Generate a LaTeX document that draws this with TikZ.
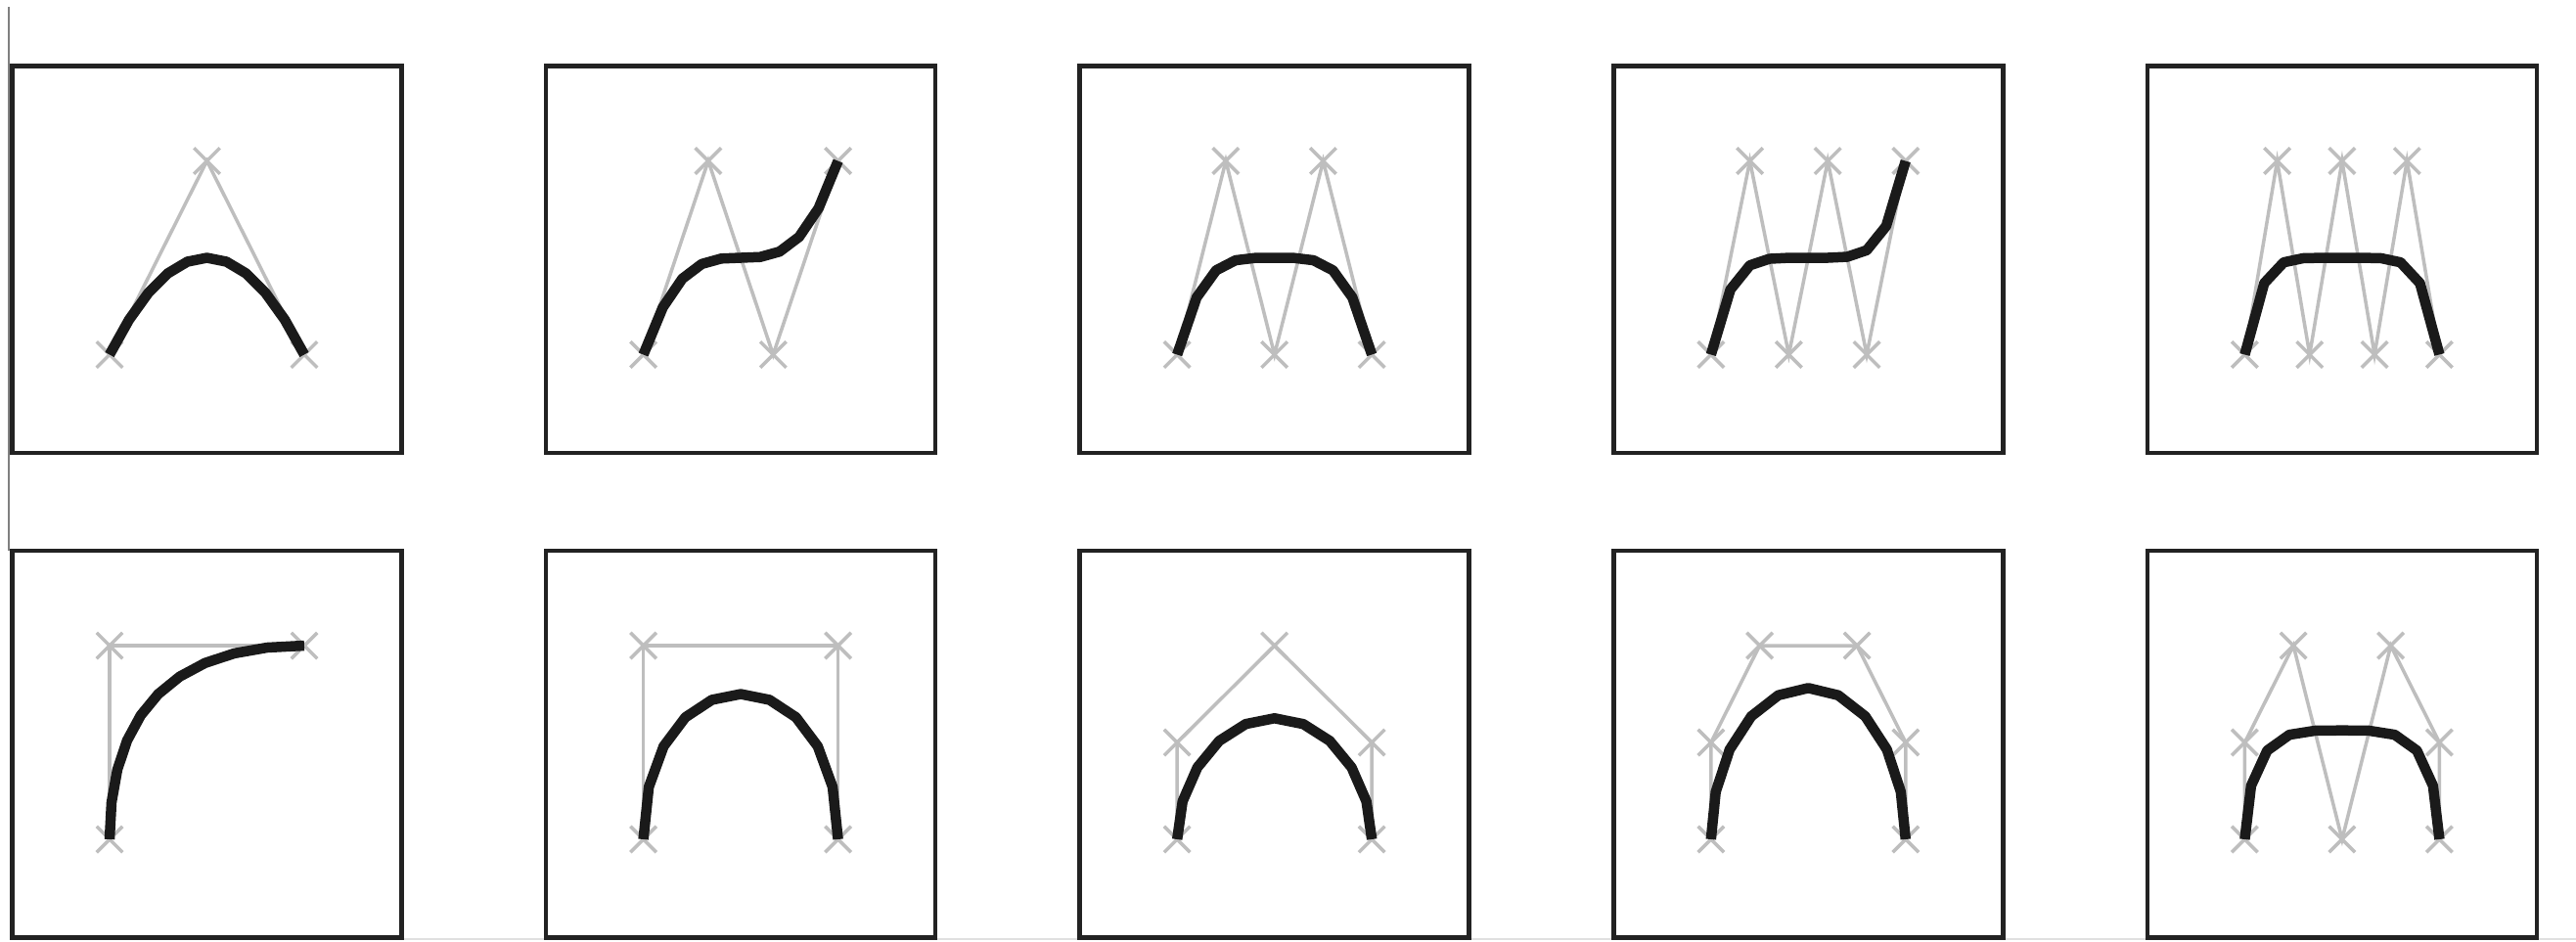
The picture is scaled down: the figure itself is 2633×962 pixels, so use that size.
\documentclass[tikz,border=0pt]{standalone}
\usetikzlibrary{shapes.misc}
\definecolor{ctrlgray}{HTML}{BEBEBE}
\definecolor{curveblk}{HTML}{1A1A1A}
\definecolor{boxblk}{HTML}{222222}
\newcommand\bzpanel[6]{%
  \pgfmathsetmacro\bx{12.5+545.6*#1}%
  \pgfmathsetmacro\by{67.5+495.5*#2}%
  \draw[frame] (\bx,\by) rectangle ++(398,395.5);
  \begin{scope}[shift={(\bx+99.5,\by+295)}, xscale=199, yscale=-198]
    \draw[ctrl] #3 \foreach \p in {#4} { -- \p };
    \foreach \p in {#3,#4} \node[xmark] at \p {};
    \draw[bcurve] plot[domain=0:1, samples=11, variable=\t] ({#5},{#6});
  \end{scope}
}
\begin{document}
\begin{tikzpicture}[x=0.1mm,y=-0.1mm,
  frame/.style={draw=boxblk, line width=0.45mm},
  ctrl/.style={draw=ctrlgray, line width=0.35mm, line join=miter},
  xmark/.style={cross out, draw=ctrlgray, line width=0.35mm, minimum size=2.3mm, inner sep=0pt},
  bcurve/.style={draw=curveblk, line width=1.05mm, line join=round}]
\useasboundingbox (0,0) rectangle (2633,962);
\fill[white] (0,0) rectangle (2633,962);
\draw[draw=black!50, line width=0.2mm] (9,7) -- (9,563);
\draw[draw=black!12, line width=0.2mm] (411,960) -- (2633,960);
% row 1
\bzpanel{0}{0}{(0,0)}{(0.5,1),(1,0)}{\t}{2*\t*(1-\t)}
\bzpanel{1}{0}{(0,0)}{(1/3,1),(2/3,0),(1,1)}{\t}{3*\t*(1-\t)^2+\t^3}
\bzpanel{2}{0}{(0,0)}{(0.25,1),(0.5,0),(0.75,1),(1,0)}{\t}{4*\t*(1-\t)^3+4*\t^3*(1-\t)}
\bzpanel{3}{0}{(0,0)}{(0.2,1),(0.4,0),(0.6,1),(0.8,0),(1,1)}{\t}{5*\t*(1-\t)^4+10*\t^3*(1-\t)^2+\t^5}
\bzpanel{4}{0}{(0,0)}{(1/6,1),(2/6,0),(3/6,1),(4/6,0),(5/6,1),(1,0)}{\t}{6*\t*(1-\t)^5+20*\t^3*(1-\t)^3+6*\t^5*(1-\t)}
% row 2
\bzpanel{0}{1}{(0,0)}{(0,1),(1,1)}{\t^2}{1-(1-\t)^2}
\bzpanel{1}{1}{(0,0)}{(0,1),(1,1),(1,0)}{3*\t^2*(1-\t)+\t^3}{3*\t*(1-\t)}
\bzpanel{2}{1}{(0,0)}{(0,0.5),(0.5,1),(1,0.5),(1,0)}{3*\t^2*(1-\t)^2+4*\t^3*(1-\t)+\t^4}{2*\t*(1-\t)^3+6*\t^2*(1-\t)^2+2*\t^3*(1-\t)}
\bzpanel{3}{1}{(0,0)}{(0,0.5),(0.25,1),(0.75,1),(1,0.5),(1,0)}{2.5*\t^2*(1-\t)^3+7.5*\t^3*(1-\t)^2+5*\t^4*(1-\t)+\t^5}{2.5*\t*(1-\t)^4+10*\t^2*(1-\t)^3+10*\t^3*(1-\t)^2+2.5*\t^4*(1-\t)}
\bzpanel{4}{1}{(0,0)}{(0,0.5),(0.25,1),(0.5,0),(0.75,1),(1,0.5),(1,0)}{3.75*\t^2*(1-\t)^4+10*\t^3*(1-\t)^3+11.25*\t^4*(1-\t)^2+6*\t^5*(1-\t)+\t^6}{3*\t*(1-\t)^5+15*\t^2*(1-\t)^4+15*\t^4*(1-\t)^2+3*\t^5*(1-\t)}
\end{tikzpicture}
\end{document}
